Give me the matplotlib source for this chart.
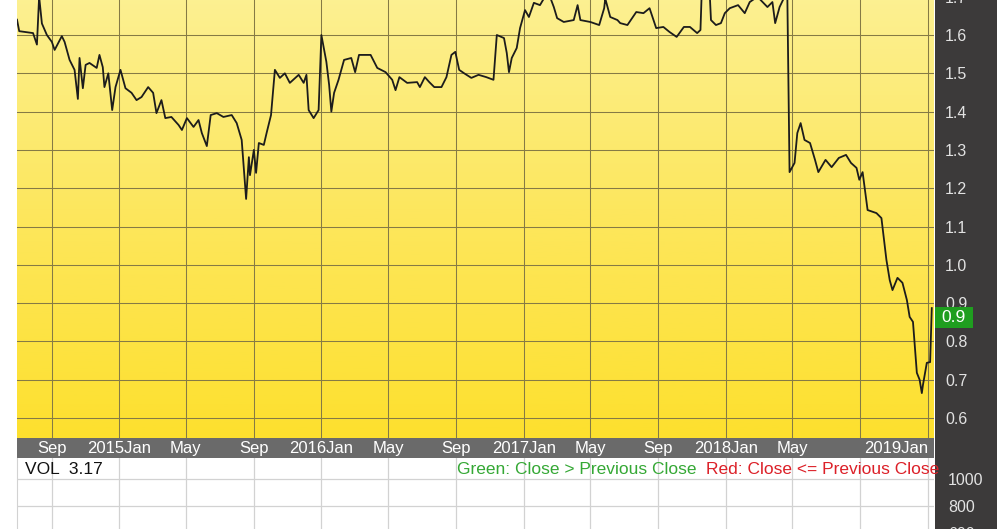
import matplotlib
matplotlib.use("Agg")
import matplotlib.pyplot as plt
import matplotlib.transforms as mtransforms
from matplotlib.colors import LinearSegmentedColormap
from matplotlib.patches import Rectangle
import numpy as np
import pandas as pd

plt.rcParams['font.family'] = ['Liberation Sans', 'DejaVu Sans']

## data
dates = [
    "2014-06-30", "2014-07-04", "2014-07-29", "2014-08-05", "2014-08-09", "2014-08-14", "2014-08-23",
    "2014-09-01", "2014-09-06", "2014-09-19", "2014-09-24", "2014-10-03", "2014-10-12", "2014-10-18",
    "2014-10-21", "2014-10-27", "2014-11-01", "2014-11-08", "2014-11-21", "2014-11-26", "2014-12-02",
    "2014-12-05", "2014-12-12", "2014-12-19", "2014-12-25", "2015-01-03", "2015-01-12", "2015-01-23",
    "2015-02-01", "2015-02-10", "2015-02-22", "2015-03-03", "2015-03-09", "2015-03-18", "2015-03-25",
    "2015-04-05", "2015-04-18", "2015-04-24", "2015-05-03", "2015-05-15", "2015-05-24", "2015-05-30",
    "2015-06-08", "2015-06-15", "2015-06-26", "2015-07-08", "2015-07-23", "2015-08-01", "2015-08-10",
    "2015-08-14", "2015-08-18", "2015-08-23", "2015-08-25", "2015-09-01", "2015-09-05", "2015-09-10",
    "2015-09-19", "2015-09-24", "2015-10-02", "2015-10-09", "2015-10-18", "2015-10-27", "2015-11-05",
    "2015-11-21", "2015-11-30", "2015-12-05", "2015-12-09", "2015-12-18", "2015-12-27", "2016-01-01",
    "2016-01-10", "2016-01-15", "2016-01-19", "2016-01-24", "2016-02-01", "2016-02-11", "2016-02-24",
    "2016-03-02", "2016-03-09", "2016-03-30", "2016-04-11", "2016-04-26", "2016-05-08", "2016-05-14",
    "2016-05-21", "2016-06-04", "2016-06-22", "2016-06-27", "2016-07-06", "2016-07-14", "2016-07-23",
    "2016-08-05", "2016-08-14", "2016-08-23", "2016-08-30", "2016-09-06", "2016-09-15", "2016-09-28",
    "2016-10-11", "2016-10-25", "2016-11-07", "2016-11-13", "2016-11-26", "2016-12-01", "2016-12-05",
    "2016-12-10", "2016-12-19", "2016-12-25", "2017-01-03", "2017-01-10", "2017-01-19", "2017-01-30",
    "2017-02-08", "2017-02-17", "2017-02-24", "2017-03-02", "2017-03-14", "2017-04-01", "2017-04-08",
    "2017-04-13", "2017-05-01", "2017-05-17", "2017-05-26", "2017-05-28", "2017-06-06", "2017-06-19",
    "2017-06-24", "2017-07-07", "2017-07-23", "2017-08-05", "2017-08-16", "2017-08-28", "2017-09-10",
    "2017-09-21", "2017-10-04", "2017-10-17", "2017-10-28", "2017-11-10", "2017-11-16", "2017-11-18",
    "2017-12-03", "2017-12-05", "2017-12-14", "2017-12-23", "2017-12-30", "2018-01-08", "2018-01-23",
    "2018-02-04", "2018-02-13", "2018-02-27", "2018-03-17", "2018-03-26", "2018-03-31", "2018-04-08",
    "2018-04-17", "2018-04-22", "2018-04-26", "2018-05-05", "2018-05-10", "2018-05-16", "2018-05-23",
    "2018-06-02", "2018-06-11", "2018-06-17", "2018-06-30", "2018-07-11", "2018-07-24", "2018-08-06",
    "2018-08-15", "2018-08-25", "2018-08-30", "2018-09-05", "2018-09-14", "2018-09-30", "2018-10-09",
    "2018-10-18", "2018-10-24", "2018-10-29", "2018-11-07", "2018-11-16", "2018-11-24", "2018-11-29",
    "2018-12-05", "2018-12-12", "2018-12-17", "2018-12-21", "2018-12-23", "2018-12-30", "2019-01-05",
    "2019-01-08",
]
close = [
    1.640, 1.610, 1.605, 1.575, 1.700, 1.630, 1.600,
    1.582, 1.561, 1.597, 1.582, 1.535, 1.509, 1.433,
    1.540, 1.461, 1.522, 1.527, 1.514, 1.548, 1.516,
    1.464, 1.500, 1.404, 1.464, 1.509, 1.461, 1.449,
    1.430, 1.438, 1.464, 1.449, 1.396, 1.430, 1.383,
    1.386, 1.365, 1.352, 1.383, 1.360, 1.378, 1.344,
    1.310, 1.391, 1.396, 1.386, 1.391, 1.370, 1.326,
    1.248, 1.172, 1.281, 1.234, 1.300, 1.240, 1.318,
    1.313, 1.344, 1.391, 1.509, 1.488, 1.500, 1.475,
    1.496, 1.475, 1.496, 1.404, 1.383, 1.404, 1.600,
    1.530, 1.470, 1.400, 1.449, 1.483, 1.535, 1.540,
    1.503, 1.548, 1.548, 1.514, 1.503, 1.483, 1.456,
    1.490, 1.475, 1.477, 1.464, 1.490, 1.477, 1.464,
    1.464, 1.490, 1.548, 1.556, 1.509, 1.500, 1.488,
    1.496, 1.490, 1.483, 1.600, 1.592, 1.553, 1.503,
    1.540, 1.566, 1.618, 1.665, 1.647, 1.684, 1.678,
    1.700, 1.700, 1.673, 1.644, 1.634, 1.639, 1.678,
    1.639, 1.634, 1.626, 1.670, 1.695, 1.647, 1.639,
    1.631, 1.626, 1.660, 1.657, 1.670, 1.618, 1.621,
    1.608, 1.595, 1.621, 1.621, 1.605, 1.613, 1.700,
    1.700, 1.639, 1.626, 1.631, 1.657, 1.670, 1.678,
    1.657, 1.686, 1.700, 1.673, 1.686, 1.631, 1.673,
    1.700, 1.700, 1.242, 1.266, 1.344, 1.370, 1.326,
    1.318, 1.274, 1.242, 1.274, 1.255, 1.279, 1.287,
    1.266, 1.253, 1.222, 1.242, 1.143, 1.135, 1.122,
    1.013, 0.960, 0.934, 0.966, 0.953, 0.908, 0.864,
    0.851, 0.718, 0.700, 0.665, 0.686, 0.744, 0.746,
    0.887,
]

tick_dates = ["2014-09-01", "2015-01-01", "2015-05-01", "2015-09-01", "2016-01-01", "2016-05-01",
              "2016-09-01", "2017-01-01", "2017-05-01", "2017-09-01", "2018-01-01", "2018-05-01",
              "2018-09-01", "2019-01-01"]
tick_labels = ["Sep", "2015Jan", "May", "Sep", "2016Jan", "May", "Sep", "2017Jan", "May", "Sep",
               "2018Jan", "May", "", "2019Jan"]
price_ticks = [0.6, 0.7, 0.8, 0.9, 1.0, 1.1, 1.2, 1.3, 1.4, 1.5, 1.6, 1.7]
vol_ticks = [600, 800, 1000]
last_label = "0.9"
vol_text = "VOL  3.17"
green_text = "Green: Close > Previous Close"
red_text = "Red: Close <= Previous Close"

x = pd.to_datetime(dates)
ticks = pd.to_datetime(tick_dates)

W, H = 1007, 529
fig = plt.figure(figsize=(W / 100, H / 100), dpi=100)
fig.patch.set_facecolor('white')

def px_box(x0, y0, x1, y1):
    # pixel box (from top-left) -> figure fraction rect
    return [x0 / W, 1 - y1 / H, (x1 - x0) / W, (y1 - y0) / H]

# dark right panel + date band
fig.patches.append(Rectangle((935 / W, 0), 62 / W, 1, transform=fig.transFigure,
                             facecolor='#3c3a3a', edgecolor='none', zorder=-1))
fig.patches.append(Rectangle((17 / W, 1 - 458 / H), 917 / W, 20 / H, transform=fig.transFigure,
                             facecolor='#6a6a6a', edgecolor='none', zorder=-1))

## price panel
ax = fig.add_axes(px_box(17, -20, 934, 438))
cmap = LinearSegmentedColormap.from_list('bg', ['#fde02e', '#fde75e', '#fcf196'])
grad = np.linspace(0, 1, 256).reshape(-1, 1)
ax.imshow(grad, extent=[0, 1, 0, 1], transform=ax.transAxes, aspect='auto',
          cmap=cmap, origin='lower', zorder=0)
ax.plot(x, close, color='#1c1c1c', lw=1.3, zorder=3)

xmin, xmax = pd.Timestamp("2014-06-30"), pd.Timestamp("2019-01-12")
ax.set_xlim(xmin, xmax)
ax.set_ylim(0.5478, 1.7436)
ax.set_xticks(ticks)
ax.set_xticklabels(tick_labels)
ax.set_yticks(price_ticks)
ax.set_yticklabels([f"{v:.1f}" for v in price_ticks])
ax.yaxis.tick_right()
ax.grid(True, color='#857a45', lw=0.75)
for s in ax.spines.values():
    s.set_visible(False)
ax.tick_params(axis='x', length=0, pad=2, labelcolor='white', labelsize=12)
ax.tick_params(axis='y', length=0, pad=8, labelcolor='#e2e2e2', labelsize=11.5)
ax.get_xticklabels()[-1].set_horizontalalignment('right')

# last price tag: green box starting at the panel edge, top at the last close
tag = mtransforms.blended_transform_factory(ax.transAxes, ax.transData)
box_h = 0.055
ax.add_patch(Rectangle((1.001, close[-1] - box_h + 0.002), 38 / 917, box_h, transform=tag,
                       facecolor='#1f9e1f', edgecolor='none', clip_on=False, zorder=5))
ax.text(1.001 + 19 / 917, close[-1] - box_h / 2 + 0.002, last_label, transform=tag,
        ha='center', va='center', color='white', fontsize=12.5, clip_on=False, zorder=6)

## volume panel
axv = fig.add_axes(px_box(17, 458, 934, 614))
axv.set_facecolor('white')
axv.set_xlim(xmin, xmax)
axv.set_ylim(0, 1155)
axv.set_xticks(ticks)
axv.set_xticklabels([])
axv.set_yticks(vol_ticks)
axv.set_yticklabels([str(v) for v in vol_ticks])
axv.yaxis.tick_right()
axv.grid(True, color='#d2d2d2', lw=0.9)
for k, s in axv.spines.items():
    s.set_visible(k == 'left')
axv.spines['left'].set_color('#d2d2d2')
axv.tick_params(axis='x', length=0)
axv.tick_params(axis='y', length=0, pad=10, labelcolor='#e2e2e2', labelsize=11.5)

fig.text(25 / W, 1 - 469 / H, vol_text, color='#111111', fontsize=12.5, va='center')
fig.text(457 / W, 1 - 469 / H, green_text, color='#35a835', fontsize=12.5, va='center')
fig.text(706 / W, 1 - 469 / H, red_text, color='#dc2028', fontsize=12.5, va='center')

plt.savefig("out.png", dpi=100)
